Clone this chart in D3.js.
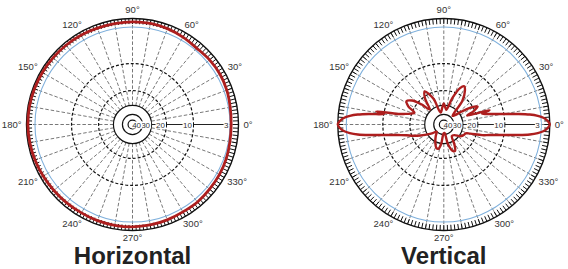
<!DOCTYPE html>
<html><head><meta charset="utf-8">
<script src="https://cdn.jsdelivr.net/npm/d3@7"></script>
<style>html,body{margin:0;padding:0;background:#fff;} svg{display:block;font-family:"Liberation Sans",Arial,sans-serif;}</style>
</head><body><svg id="c" width="568" height="269"></svg>
<script>
// ---------- data ----------
const degreeTicks = [0, 30, 60, 90, 120, 150, 180, 210, 240, 270, 300, 330];
const degreeLabels = ["0°", "30°", "60°", "90°", "120°", "150°", "180°", "210°", "240°", "270°", "300°", "330°"];
const ringLevels = [-3, -10, -20, -30, -40];
const ringLabels = ["3", "10", "20", "30", "40"];
const chartTitles = ["Horizontal", "Vertical"];

const horizAngles = [0,10,20,30,40,50,60,70,80,90,100,110,120,130,140,150,160,170,180,190,200,210,220,230,240,250,260,270,280,290,300,310,320,330,340,350];
const horizDb = [-2.6,-2.4,-2.0,-1.8,-1.9,-2.2,-1.8,-1.4,-1.2,-1.2,-1.3,-1.2,-1.0,-0.9,-0.8,-0.7,-0.6,-0.5,-0.5,-0.6,-0.8,-1.0,-1.2,-1.3,-1.4,-1.3,-1.3,-1.3,-1.4,-1.6,-1.8,-1.7,-1.9,-2.0,-2.2,-2.5];

const vertAngles = [0,1.9,3.7,5.2,6.6,8,9.9,13.1,15.5,17.5,19,21,24,28,32,36,40,45,52,58,62,66,72,80,85,90,95,105,112,120,126,133,138,143,148,153,158,162,164.6,167,169,170.1,172,173.4,174.8,176.3,178.1,180,181.9,183.7,185.2,186.6,188,189.9,193.1,196,200,205,210,218,225,235,245,252,257,262,268,275,282,289,293,298,305,315,325,333,338,341,344.5,346.9,350.1,352,353.4,354.8,356.3,358.1];
const vertDb = [0,-0.7,-2.05,-3.6,-5.1,-7.2,-10,-15.3,-17.8,-14.8,-21,-26,-21,-18.4,-21,-28,-35,-37.5,-22.5,-17.8,-16.5,-17.8,-24,-34.5,-32.2,-28.7,-32.2,-37.5,-24,-18.4,-21.5,-29,-22.5,-17.8,-16.3,-17.8,-21.5,-19.6,-17.8,-15.3,-8.5,-10,-7.2,-5.1,-3.6,-2.05,-0.7,0,-0.7,-2.05,-3.6,-5.1,-7.2,-10,-15.3,-18.2,-20.7,-25.4,-29.3,-35.6,-40,-35.6,-29.3,-26.4,-26,-29.3,-41.5,-43,-29.3,-24,-23.5,-27.6,-35.6,-34.5,-29,-27.5,-27,-24,-17.8,-15.3,-10,-7.2,-5.1,-3.6,-2.05,-0.7];

// ---------- drawing ----------
const svg = d3.select("#c");
const R = 106;
const rScale = d3.scaleLinear()
  .domain([0, -3, -10, -20, -30, -40, -50])
  .range([R, R * 0.92, R * 0.575, R * 0.32, R * 0.18, R * 0.095, R * 0.042])
  .clamp(true);
const rad = d => d * Math.PI / 180;

const charts = [
  {cx: 132.5, cy: 124.5, angles: horizAngles, db: horizDb, sw: 2.8, title: chartTitles[0]},
  {cx: 443.8, cy: 124.5, angles: vertAngles, db: vertDb, sw: 2.4, title: chartTitles[1]}
];

charts.forEach(ch => {
  const g = svg.append("g").attr("transform", `translate(${ch.cx},${ch.cy})`);

  // radial dashed lines
  d3.range(0, 360, 10).forEach(a => {
    const r0 = a === 0 ? rScale(-3) : rScale(-30);
    g.append("line")
      .attr("x1", r0 * Math.cos(rad(a))).attr("y1", -r0 * Math.sin(rad(a)))
      .attr("x2", R * Math.cos(rad(a))).attr("y2", -R * Math.sin(rad(a)))
      .attr("stroke", "#555").attr("stroke-width", 0.8).attr("stroke-dasharray", "3.5,2");
  });
  // solid 0° scale line
  g.append("line").attr("x1", rScale(-30)).attr("x2", rScale(-3)).attr("y1", 0).attr("y2", 0)
    .attr("stroke", "#222").attr("stroke-width", 1.1);

  // circles
  g.append("circle").attr("r", rScale(-3)).attr("fill", "none").attr("stroke", "#7fb0dc").attr("stroke-width", 1.1);
  [-10, -20].forEach(l => g.append("circle").attr("r", rScale(l)).attr("fill", "none")
    .attr("stroke", "#111").attr("stroke-width", 1.2).attr("stroke-dasharray", "3,2"));
  [-30, -40, -50].forEach(l => g.append("circle").attr("r", rScale(l)).attr("fill", "none")
    .attr("stroke", "#111").attr("stroke-width", 1.2));

  // scale labels
  ringLevels.forEach((l, i) => {
    const t = g.append("text").attr("x", rScale(l) - 1.5).attr("y", 3)
      .attr("text-anchor", "end").attr("font-size", 8).attr("fill", "#333").text(ringLabels[i]);
    const bb = t.node().getBBox();
    g.insert("rect", () => t.node()).attr("x", bb.x - 0.5).attr("y", bb.y + 1).attr("width", bb.width + 1)
      .attr("height", bb.height - 2).attr("fill", "#fff");
  });

  // outer ring with ticks
  g.append("circle").attr("r", R).attr("fill", "none").attr("stroke", "#111").attr("stroke-width", 1.4);
  d3.range(0, 360, 2).forEach(a => {
    g.append("line")
      .attr("x1", (R - 5.5) * Math.cos(rad(a))).attr("y1", -(R - 5.5) * Math.sin(rad(a)))
      .attr("x2", R * Math.cos(rad(a))).attr("y2", -R * Math.sin(rad(a)))
      .attr("stroke", "#111").attr("stroke-width", 1);
  });

  // pattern
  const pts = ch.angles.map((a, i) => [a, ch.db[i]]);
  const line = d3.lineRadial()
    .angle(d => Math.PI / 2 - rad(d[0]))
    .radius(d => rScale(d[1]))
    .curve(d3.curveCatmullRomClosed.alpha(0.5));
  g.append("path").attr("d", line(pts)).attr("fill", "none")
    .attr("stroke", "#ad1e1e").attr("stroke-width", ch.sw).attr("stroke-linejoin", "round");

  // degree labels
  degreeTicks.forEach((a, i) => {
    const t = g.append("text").attr("font-size", 9.5).attr("fill", "#333")
      .attr("text-anchor", "middle").text(degreeLabels[i]);
    const w = t.node().getComputedTextLength();
    const c = Math.cos(rad(a)), s = Math.sin(rad(a));
    const rr = 111;
    const x = rr * c + (w / 2) * c;
    const y = -rr * s - 4 * s;
    t.attr("x", x).attr("y", y + 3.4 - (a === 270 ? 1.5 : 0));
  });

  // title
  svg.append("text").attr("x", ch.cx).attr("y", 264).attr("text-anchor", "middle")
    .attr("font-size", 24).attr("font-weight", "bold").attr("fill", "#222").text(ch.title);
});
</script>
</body></html>
